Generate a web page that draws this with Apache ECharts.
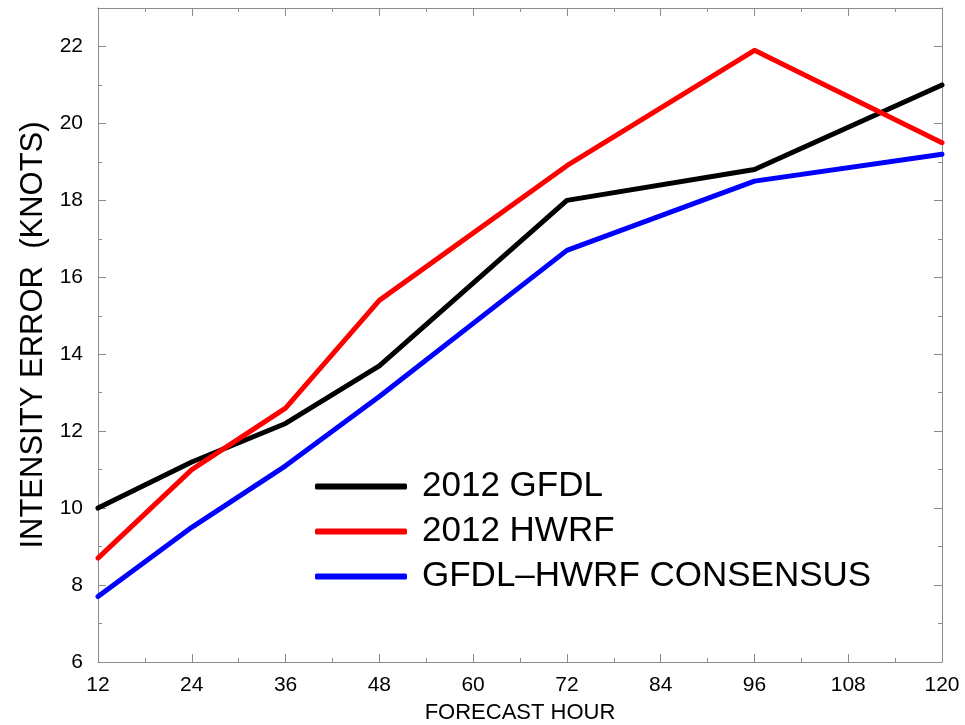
<!DOCTYPE html>
<html>
<head>
<meta charset="utf-8">
<script src="https://cdn.jsdelivr.net/npm/echarts@6/dist/echarts.min.js"></script>
<style>html,body{margin:0;padding:0;background:#fff;}#c{width:965px;height:725px;}</style>
</head>
<body>
<div id="c"></div>
<script>
var hours = [12, 24, 36, 48, 72, 96, 120];
var gfdl = [10.0, 11.2, 12.2, 13.7, 18.0, 18.8, 21.0];
var hwrf = [8.7, 11.0, 12.6, 15.4, 18.9, 21.9, 19.5];
var consensus = [7.7, 9.5, 11.1, 12.9, 16.7, 18.5, 19.2];
var names = ['2012 GFDL', '2012 HWRF', 'GFDL\u2013HWRF CONSENSUS'];
var colors = ['#000000', '#ff0000', '#0000ff'];

function pairs(vals){ return hours.map(function(h,i){ return [h, vals[i]]; }); }

var font = 'Liberation Sans, Arial, Helvetica, sans-serif';
var axisCol = '#8c8c8c';
function baseAxis(extra){
  var a = {
    axisLine: {show: true, lineStyle: {color: axisCol, width: 1}},
    axisTick: {show: true, inside: true, length: 8, lineStyle: {color: axisCol}},
    minorTick: {show: true, splitNumber: 2, length: 4, lineStyle: {color: axisCol}},
    splitLine: {show: false},
    axisLabel: {color: '#000', fontSize: 21, fontFamily: font}
  };
  for (var k in extra) a[k] = extra[k];
  return a;
}

var chart = echarts.init(document.getElementById('c'), null, {renderer: 'canvas'});
chart.setOption({
  backgroundColor: '#fff',
  animation: false,
  grid: {left: 98, right: 23, top: 8, bottom: 63, containLabel: false, outerBoundsMode: 'none'},
  xAxis: [
    baseAxis({type: 'value', min: 12, max: 120, interval: 12, position: 'bottom',
      name: 'FORECAST HOUR', nameLocation: 'middle', nameGap: 40,
      nameTextStyle: {color: '#000', fontSize: 22, fontFamily: font},
      axisLabel: {color: '#000', fontSize: 21, fontFamily: font, margin: 13}}),
    baseAxis({type: 'value', min: 12, max: 120, interval: 12, position: 'top',
      axisLabel: {show: false}})
  ],
  yAxis: [
    baseAxis({type: 'value', min: 6, max: 23, interval: 2, position: 'left',
      name: 'INTENSITY ERROR  (KNOTS)', nameLocation: 'middle', nameGap: 46,
      nameTextStyle: {color: '#000', fontSize: 31, fontFamily: font},
      axisLabel: {color: '#000', fontSize: 21, fontFamily: font, margin: 15,
        formatter: function(v){ return v % 2 === 0 ? String(v) : ''; }}}),
    baseAxis({type: 'value', min: 6, max: 23, interval: 2, position: 'right',
      axisLabel: {show: false}})
  ],
  legend: {
    show: true, orient: 'vertical', left: 310, top: 464,
    itemWidth: 92, itemHeight: 6, itemGap: 10, icon: 'roundRect',
    textStyle: {color: '#000', fontSize: 35, fontFamily: font, padding: [0,0,0,10]},
    data: names
  },
  series: [gfdl, hwrf, consensus].map(function(vals, i){
    return {
      name: names[i], type: 'line', data: pairs(vals),
      showSymbol: false, symbol: 'none',
      lineStyle: {color: colors[i], width: 5, cap: 'round', join: 'round'},
      itemStyle: {color: colors[i]}
    };
  })
});
</script>
</body>
</html>
